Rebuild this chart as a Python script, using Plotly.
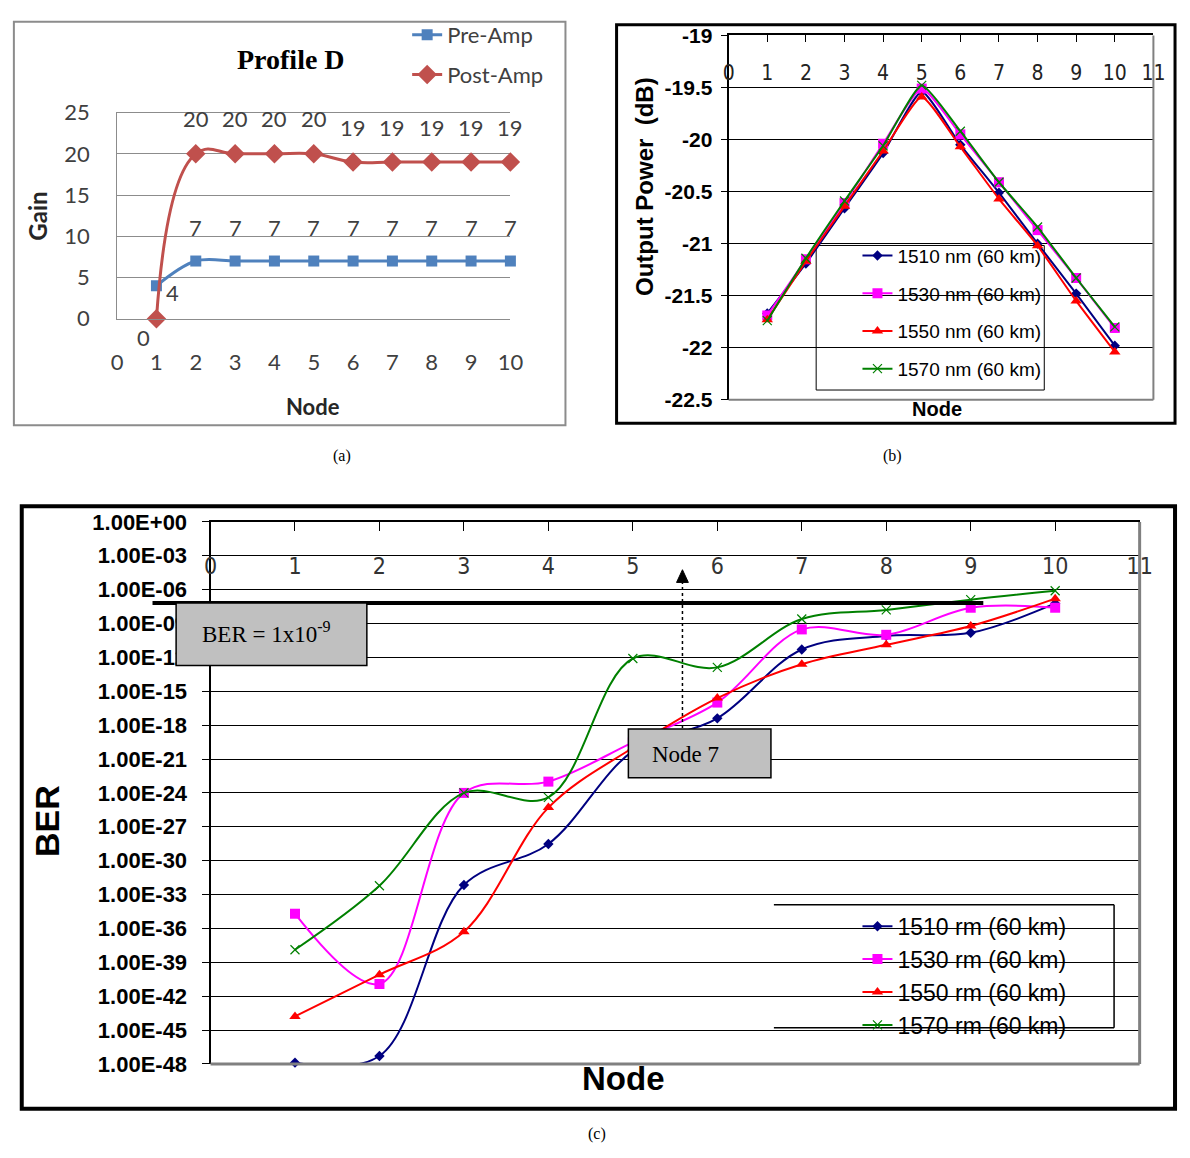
import plotly.graph_objects as go

W, H = 1190, 1158


def px(x):
    return x / W


def py(y):
    return 1 - y / H


# ---------------- data: panel (a) ----------------
nodes_a = [1, 2, 3, 4, 5, 6, 7, 8, 9, 10]
pre_amp = [4, 7, 7, 7, 7, 7, 7, 7, 7, 7]
post_amp = [0, 20, 20, 20, 20, 19, 19, 19, 19, 19]
ticks_a_x = [0, 1, 2, 3, 4, 5, 6, 7, 8, 9, 10]
ticks_a_y = [0, 5, 10, 15, 20, 25]

# ---------------- data: panel (b) ----------------
nodes_b = [1, 2, 3, 4, 5, 6, 7, 8, 9, 10]
pow_1510 = [-21.67, -21.19, -20.66, -20.13, -19.54, -20.05, -20.51, -21.00, -21.48, -21.98]
pow_1530 = [-21.69, -21.15, -20.61, -20.04, -19.51, -19.95, -20.41, -20.87, -21.33, -21.81]
pow_1550 = [-21.73, -21.17, -20.64, -20.11, -19.59, -20.07, -20.57, -21.02, -21.55, -22.04]
pow_1570 = [-21.74, -21.14, -20.59, -20.06, -19.48, -19.92, -20.41, -20.84, -21.33, -21.80]
ticks_b_x = [0, 1, 2, 3, 4, 5, 6, 7, 8, 9, 10, 11]
ticks_b_y = [-19, -19.5, -20, -20.5, -21, -21.5, -22, -22.5]
ticks_b_y_text = ["-19", "-19.5", "-20", "-20.5", "-21", "-21.5", "-22", "-22.5"]

# ---------------- data: panel (c) ----------------
nodes_c = [1, 2, 3, 4, 5, 6, 7, 8, 9, 10]
ber_1510 = [1.3e-48, 5e-48, 7e-33, 3e-29, 5e-21, 4e-18, 5e-12, 8e-11, 1.5e-10, 6e-08]
ber_1530 = [2e-35, 1.2e-41, 1e-24, 1e-23, 3e-20, 1e-16, 3e-10, 1e-10, 2.5e-08, 2.5e-08]
ber_1550 = [1.6e-44, 8e-41, 5e-37, 5e-26, 1e-20, 2.5e-16, 2.5e-13, 1.3e-11, 6e-10, 1.6e-07]
ber_1570 = [1.3e-38, 6e-33, 1e-24, 4e-25, 8e-13, 1.3e-13, 2.5e-09, 1.6e-08, 1.3e-07, 8e-07]
ticks_c_x = [0, 1, 2, 3, 4, 5, 6, 7, 8, 9, 10, 11]
ticks_c_y = [1e0, 1e-3, 1e-6, 1e-9, 1e-12, 1e-15, 1e-18, 1e-21, 1e-24, 1e-27,
             1e-30, 1e-33, 1e-36, 1e-39, 1e-42, 1e-45, 1e-48]
ticks_c_y_text = ["1.00E+00", "1.00E-03", "1.00E-06", "1.00E-09", "1.00E-12",
                  "1.00E-15", "1.00E-18", "1.00E-21", "1.00E-24", "1.00E-27",
                  "1.00E-30", "1.00E-33", "1.00E-36", "1.00E-39", "1.00E-42",
                  "1.00E-45", "1.00E-48"]

series_b = [
    ("1510 nm (60 km)", pow_1510, "#000080", "diamond", 8),
    ("1530 nm (60 km)", pow_1530, "#FF00FF", "square", 10),
    ("1550 nm (60 km)", pow_1550, "#FF0000", "triangle-up", 10),
    ("1570 nm (60 km)", pow_1570, "#008000", "x-thin", 9),
]
series_c = [
    ("1510 rm (60 km)", ber_1510, "#000080", "diamond", 8),
    ("1530 rm (60 km)", ber_1530, "#FF00FF", "square", 10),
    ("1550 rm (60 km)", ber_1550, "#FF0000", "triangle-up", 10),
    ("1570 rm (60 km)", ber_1570, "#008000", "x-thin", 9),
]

CAL = "Lato, 'Open Sans', sans-serif"
ARIAL = "'Liberation Sans', Arial, sans-serif"
NARROW = "'Liberation Sans Narrow', 'DejaVu Sans Condensed', 'Liberation Sans', sans-serif"
TIMES = "'Liberation Serif', 'Times New Roman', serif"

fig = go.Figure()

# ---- panel (a) traces
fig.add_trace(go.Scatter(
    x=nodes_a, y=pre_amp, name="Pre-Amp", xaxis="x", yaxis="y",
    mode="lines+markers", line=dict(color="#4F81BD", width=3, shape="spline", smoothing=1),
    marker=dict(symbol="square", size=11, color="#4F81BD"),
    legend="legend", legendgroup="a1", cliponaxis=False))
fig.add_trace(go.Scatter(
    x=nodes_a, y=post_amp, name="Post-Amp", xaxis="x", yaxis="y",
    mode="lines+markers", line=dict(color="#C0504D", width=3, shape="spline", smoothing=1.3),
    marker=dict(symbol="diamond", size=15, color="#C0504D"),
    legend="legend", legendgroup="a2", cliponaxis=False))

# ---- panel (b) traces
for i, (nm, vals, col, sym, sz) in enumerate(series_b):
    mk = dict(symbol=sym, size=sz, color=col)
    if sym == "x-thin":
        mk["line"] = dict(color=col, width=1.2)
    fig.add_trace(go.Scatter(
        x=nodes_b, y=vals, name=nm, xaxis="x2", yaxis="y2",
        mode="lines+markers", line=dict(color=col, width=2, shape="spline", smoothing=0.5),
        marker=mk, legend="legend2", legendgroup="b%d" % i, cliponaxis=False))

# ---- panel (c) traces
for i, (nm, vals, col, sym, sz) in enumerate(series_c):
    mk = dict(symbol=sym, size=sz, color=col)
    if sym == "x-thin":
        mk["line"] = dict(color=col, width=1.2)
    fig.add_trace(go.Scatter(
        x=nodes_c, y=vals, name=nm, xaxis="x3", yaxis="y3",
        mode="lines+markers", line=dict(color=col, width=2, shape="spline", smoothing=1),
        marker=mk, legend="legend3", legendgroup="c%d" % i, cliponaxis=False))

# invisible helpers so the top tick axes are drawn
fig.add_trace(go.Scatter(x=[nodes_b[0]], y=[pow_1510[0]], xaxis="x5", yaxis="y2", mode="markers",
                         marker=dict(opacity=0), showlegend=False, hoverinfo="skip"))
fig.add_trace(go.Scatter(x=[nodes_c[0]], y=[ber_1510[0]], xaxis="x4", yaxis="y3", mode="markers",
                         marker=dict(opacity=0), showlegend=False, hoverinfo="skip"))

annotations = []

# data labels panel (a)
for i, (n, v) in enumerate(zip(nodes_a, post_amp)):
    xs, ys = (-13, -19) if i == 0 else (0, 35)
    annotations.append(dict(x=n, y=v, xref="x", yref="y", text=str(v), showarrow=False,
                            xshift=xs, yshift=ys, font=dict(family=CAL, size=22, color="#404040")))
for i, (n, v) in enumerate(zip(nodes_a, pre_amp)):
    xs, ys = (16, -7) if i == 0 else (0, 34)
    annotations.append(dict(x=n, y=v, xref="x", yref="y", text=str(v), showarrow=False,
                            xshift=xs, yshift=ys, font=dict(family=CAL, size=22, color="#404040")))


def txt(x, y, s, font, angle=0):
    annotations.append(dict(x=px(x), y=py(y), xref="paper", yref="paper", text=s,
                            showarrow=False, textangle=angle, font=font,
                            xanchor="center", yanchor="middle"))


txt(289, 47, "<b>Profile D</b>", dict(family=TIMES, size=28, color="black"))
txt(31, 207, "<b>Gain</b>", dict(family=CAL, size=24, color="#262626"), -90)
txt(311, 402, "<b>Node</b>", dict(family=CAL, size=22, color="#262626"))
txt(649, 177, "<b>Output Power  (dB)</b>", dict(family=ARIAL, size=24, color="black"), -90)
txt(946, 404, "<b>Node</b>", dict(family=ARIAL, size=20, color="black"))
txt(40, 826, "<b>BER</b>", dict(family=ARIAL, size=34, color="black"), -90)
txt(627, 1090, "<b>Node</b>", dict(family=ARIAL, size=33, color="black"))
txt(341, 453, "(a)", dict(family=TIMES, size=16, color="black"))
txt(901, 453, "(b)", dict(family=TIMES, size=16, color="black"))
txt(600, 1147, "(c)", dict(family=TIMES, size=16, color="black"))
txt(264, 633, "BER = 1x10<sup>-9</sup>", dict(family=TIMES, size=23, color="black"))
txt(690, 758, "Node 7", dict(family=TIMES, size=23, color="black"))

shapes = []


def rect(x0, y0, x1, y1, line=None, fill=None, layer="above"):
    shapes.append(dict(type="rect", xref="paper", yref="paper",
                       x0=px(x0), x1=px(x1), y0=py(y1), y1=py(y0),
                       line=line or dict(width=0), fillcolor=fill, layer=layer))


def hline(x0, x1, y, color, width, dash="solid", layer="above"):
    shapes.append(dict(type="line", xref="paper", yref="paper", x0=px(x0), x1=px(x1),
                       y0=py(y), y1=py(y), line=dict(color=color, width=width, dash=dash), layer=layer))


def vline(x, y0, y1, color, width, dash="solid", layer="above"):
    shapes.append(dict(type="line", xref="paper", yref="paper", x0=px(x), x1=px(x),
                       y0=py(y0), y1=py(y1), line=dict(color=color, width=width, dash=dash), layer=layer))


# outer frames (kept inside the figure)
rect(7, 8, 568, 421, line=dict(color="#8c8c8c", width=2), layer="below")
rect(620, 11, 1188, 419, line=dict(color="black", width=3), layer="below")
rect(15, 504, 1188, 1121, line=dict(color="black", width=4), layer="below")

# plot-area right/bottom gray borders for (b) and (c)
for xr, yr, w in (("x2 domain", "y2 domain", 2), ("x3 domain", "y3 domain", 3)):
    shapes.append(dict(type="line", xref=xr, yref=yr, x0=1, x1=1, y0=0, y1=1,
                       line=dict(color="#808080", width=w), layer="above"))
    shapes.append(dict(type="line", xref=xr, yref=yr, x0=0, x1=1, y0=0, y1=0,
                       line=dict(color="#808080", width=w), layer="above"))

# legend boxes
rect(823, 237, 1055, 385, line=dict(color="black", width=1), fill="white", layer="between")
rect(780, 912, 1126, 1038, fill="white", layer="between")
hline(780, 1126, 912, "black", 1.5, layer="between")
hline(780, 1126, 1038, "black", 1.5, layer="between")
vline(1126, 912, 1038, "black", 1.5, layer="between")

# threshold line and callouts (panel c)
hline(148, 993, 603, "black", 4)
rect(172, 603, 366, 667, line=dict(color="black", width=1.5), fill="#C0C0C0")
rect(632, 732, 777, 782, line=dict(color="black", width=1.5), fill="#C0C0C0")
vline(687, 731, 582, "black", 1.5, dash="dot")
shapes.append(dict(type="path", xref="paper", yref="paper",
                   path="M %f %f L %f %f L %f %f Z" % (px(681), py(582), px(687), py(569), px(693), py(582)),
                   fillcolor="black", line=dict(color="black", width=1), layer="above"))

fig.update_layout(
    width=W, height=H, margin=dict(l=0, r=0, t=0, b=0),
    paper_bgcolor="white", plot_bgcolor="rgba(0,0,0,0)",
    showlegend=True,
    annotations=annotations, shapes=shapes,
    xaxis=dict(domain=[px(112), px(512)], range=[0, 10], anchor="y",
               tickvals=ticks_a_x, showgrid=False, zeroline=False,
               showline=True, linecolor="#8c8c8c", linewidth=1, mirror=True,
               ticks="", ticklabelstandoff=24,
               tickfont=dict(family=CAL, size=22, color="#404040")),
    yaxis=dict(domain=[py(312), py(101)], range=[0, 25], anchor="x",
               tickvals=ticks_a_y, showgrid=True, gridcolor="#8c8c8c", gridwidth=1,
               zeroline=False, showline=True, linecolor="#8c8c8c", linewidth=1,
               ticks="", ticklabelstandoff=22,
               tickfont=dict(family=CAL, size=22, color="#404040")),
    xaxis2=dict(domain=[px(734), px(1166)], range=[0, 11], anchor="free", position=py(45),
                side="bottom", tickvals=ticks_b_x, showgrid=False, zeroline=False,
                showline=False, ticks="", ticklabelstandoff=0,
                tickfont=dict(family=NARROW, size=21, color="#222222")),
    xaxis5=dict(domain=[px(734), px(1166)], range=[0, 11], anchor="y2", side="top",
                overlaying="x2", tickvals=ticks_b_x, showticklabels=False,
                showgrid=False, zeroline=False, showline=True, linecolor="black", linewidth=1.5,
                ticks="inside", ticklen=7, tickcolor="black"),
    yaxis2=dict(domain=[py(395), py(22)], range=[-22.5, -19], anchor="x2",
                tickvals=ticks_b_y, ticktext=ticks_b_y_text,
                showgrid=True, gridcolor="black", gridwidth=1, zeroline=False,
                showline=True, linecolor="black", linewidth=2,
                ticks="outside", ticklen=6, tickcolor="black", ticklabelstandoff=4,
                tickfont=dict(family=ARIAL, size=21, color="black", weight="bold")),
    xaxis3=dict(domain=[px(207), px(1152)], range=[0, 11], anchor="free", position=py(549),
                side="bottom", tickvals=ticks_c_x, showgrid=False, zeroline=False,
                showline=False, ticks="", ticklabelstandoff=0,
                tickfont=dict(family=NARROW, size=23, color="#333333")),
    xaxis4=dict(domain=[px(207), px(1152)], range=[0, 11], anchor="y3", side="top",
                overlaying="x3", tickvals=ticks_c_x, showticklabels=False,
                showgrid=False, zeroline=False, showline=True, linecolor="black", linewidth=2,
                ticks="inside", ticklen=9, tickcolor="black"),
    yaxis3=dict(domain=[py(1075), py(520)], type="log", range=[-48, 0], anchor="x3",
                tickvals=ticks_c_y, ticktext=ticks_c_y_text,
                showgrid=True, gridcolor="black", gridwidth=1, zeroline=False,
                showline=True, linecolor="black", linewidth=2,
                ticks="outside", ticklen=7, tickcolor="black", ticklabelstandoff=10,
                tickfont=dict(family=ARIAL, size=22, color="black", weight="bold")),
    legend=dict(x=px(407), y=1.0, xanchor="left", yanchor="top",
                bgcolor="rgba(0,0,0,0)", borderwidth=0, tracegroupgap=8,
                traceorder="grouped", font=dict(family=CAL, size=22, color="#404040")),
    legend2=dict(x=px(865), y=py(228), xanchor="left", yanchor="top",
                 bgcolor="rgba(0,0,0,0)", borderwidth=0, tracegroupgap=10,
                 traceorder="grouped", font=dict(family=ARIAL, size=19, color="black")),
    legend3=dict(x=px(865), y=py(912), xanchor="left", yanchor="top",
                 bgcolor="rgba(0,0,0,0)", borderwidth=0, tracegroupgap=0,
                 traceorder="grouped", font=dict(family=ARIAL, size=23, color="black")),
)

page_fix = (
    "var d=document.documentElement,b=document.body;"
    "d.style.margin='0';d.style.padding='0';d.style.overflow='hidden';"
    "b.style.margin='0';b.style.padding='0';b.style.overflow='hidden';"
    "b.style.width='1190px';b.style.height='1158px';"
)
fig.write_html("out.html", post_script=page_fix)
